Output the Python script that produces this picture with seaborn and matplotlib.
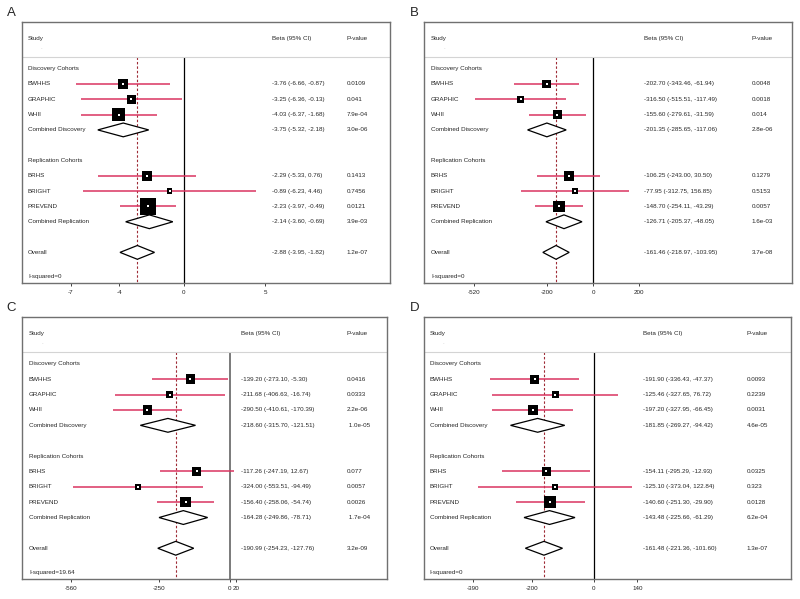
"""
Forest plots (4 panels): per-cohort beta with 95% CI, pooled estimates.
"""

import matplotlib
matplotlib.use("Agg")
import matplotlib.pyplot as plt
from matplotlib.patches import Polygon
import seaborn as sns

sns.set_style("white")
plt.rcParams['font.family'] = ['Liberation Sans', 'DejaVu Sans']

studies = ["BWHHS", "GRAPHIC", "WHII", "BRHS", "BRIGHT", "PREVEND"]
pooled = ["Combined Discovery", "Combined Replication", "Overall"]
groups = ["Discovery Cohorts", "Replication Cohorts"]

# ---------------- panel A ----------------
beta_A = [-3.76, -3.25, -4.03, -2.29, -0.89, -2.23]
lo_A = [-6.66, -6.36, -6.37, -5.33, -6.23, -3.97]
hi_A = [-0.87, -0.13, -1.68, 0.76, 4.46, -0.49]
p_A = ["0.0109", "0.041", "7.9e-04", "0.1413", "0.7456", "0.0121"]
wt_A = [81, 76, 137, 94, 28, 225]          # relative box area
pb_A = [-3.75, -2.14, -2.88]
plo_A = [-5.32, -3.60, -3.95]
phi_A = [-2.18, -0.69, -1.82]
pp_A = ["3.0e-06", "3.9e-03", "1.2e-07"]
isq_A = "0"
ticks_A = [-7, -4, 0, 5]

# ---------------- panel B ----------------
beta_B = [-202.70, -316.50, -155.60, -106.25, -77.95, -148.70]
lo_B = [-343.46, -515.51, -279.61, -243.00, -312.75, -254.11]
hi_B = [-61.94, -117.49, -31.59, 30.50, 156.85, -43.29]
p_B = ["0.0048", "0.0018", "0.014", "0.1279", "0.5153", "0.0057"]
wt_B = [69, 36, 81, 81, 28, 121]
pb_B = [-201.35, -126.71, -161.46]
plo_B = [-285.65, -205.37, -218.97]
phi_B = [-117.06, -48.05, -103.95]
pp_B = ["2.8e-06", "1.6e-03", "3.7e-08"]
isq_B = "0"
ticks_B = [-520, -200, 0, 200]

# ---------------- panel C ----------------
beta_C = [-139.20, -211.68, -290.50, -117.26, -324.00, -156.40]
lo_C = [-273.10, -406.63, -410.61, -247.19, -553.51, -258.06]
hi_C = [-5.30, -16.74, -170.39, 12.67, -94.49, -54.74]
p_C = ["0.0416", "0.0333", "2.2e-06", "0.077", "0.0057", "0.0026"]
wt_C = [81, 40, 81, 69, 36, 94]
pb_C = [-218.60, -164.28, -190.99]
plo_C = [-315.70, -249.86, -254.23]
phi_C = [-121.51, -78.71, -127.76]
pp_C = [" 1.0e-05", " 1.7e-04", "3.2e-09"]
isq_C = "19.64"
ticks_C = [-560, -250, 0, 20]

# ---------------- panel D ----------------
beta_D = [-191.90, -125.46, -197.20, -154.11, -125.10, -140.60]
lo_D = [-336.43, -327.65, -327.95, -295.29, -373.04, -251.30]
hi_D = [-47.37, 76.72, -66.45, -12.93, 122.84, -29.90]
p_D = ["0.0093", "0.2239", "0.0031", "0.0325", "0.323", "0.0128"]
wt_D = [69, 40, 76, 76, 28, 121]
pb_D = [-181.85, -143.48, -161.48]
plo_D = [-269.27, -225.66, -221.36]
phi_D = [-94.42, -61.29, -101.60]
pp_D = ["4.6e-05", "6.2e-04", "1.3e-07"]
isq_D = "0"
ticks_D = [-390, -200, 0, 140]

# row layout (y in row units, top = -3.05)
study_rows = [1, 2, 3, 7, 8, 9]
pooled_rows = [4, 10, 12]
group_rows = [0, 6]
Y_TOP, Y_BOT, Y_HEAD = -3.05, 14.0, -0.78

W, H = 800, 599
fig = plt.figure(figsize=(W / 100, H / 100), dpi=100)

FS = 4.5
ci_col = '#DA3460'
dash_col = '#9E2A35'


def panel(letter, letter_px, box_px, zero_px, scale, cols,
          beta, lo, hi, p, wt, pb, plo, phi, pp, isq, ticks, zero_style):
    x0, y0, x1, y1 = box_px
    ax = fig.add_axes([x0 / W, 1 - y1 / H, (x1 - x0) / W, (y1 - y0) / H])
    ax.set_xlim((x0 - zero_px) / scale, (x1 - zero_px) / scale)
    ax.set_ylim(Y_BOT, Y_TOP)
    tr = ax.get_yaxis_transform()

    # header
    ax.axhline(Y_HEAD, color='#d4d4d4', lw=0.8)
    ax.text(cols[0], -2.0, "Study", transform=tr, fontsize=FS, va='center')
    ax.text(cols[0] + 0.035, -1.4, ".", transform=tr, fontsize=FS, color='#bbbbbb', va='center')
    ax.text(cols[1], -2.0, "Beta (95% CI)", transform=tr, fontsize=FS, va='center')
    ax.text(cols[2], -2.0, "P-value", transform=tr, fontsize=FS, va='center')

    # reference lines
    ax.vlines(0, Y_HEAD, Y_BOT, color=zero_style[0], lw=zero_style[1], zorder=1)
    ax.vlines(pb[2], Y_HEAD, Y_BOT, color=dash_col, lw=0.8, linestyles=(0, (2.2, 1.8)), zorder=1)

    # group labels
    for r, g in zip(group_rows, groups):
        ax.text(cols[0], r, g, transform=tr, fontsize=FS, va='center')

    # individual studies
    ax.hlines(study_rows, lo, hi, color=ci_col, lw=1.1, zorder=2)
    sns.scatterplot(x=beta, y=study_rows, marker='s', s=[w * 0.6 for w in wt],
                    color='black', edgecolor='black', linewidth=0, ax=ax, zorder=3, legend=False)
    sns.scatterplot(x=beta, y=study_rows, marker='s', s=2.4,
                    color='white', linewidth=0, ax=ax, zorder=4, legend=False)
    for r, name, b, l, h, pv in zip(study_rows, studies, beta, lo, hi, p):
        ax.text(cols[0], r, name, transform=tr, fontsize=FS, va='center')
        ax.text(cols[1], r, f"{b:.2f} ({l:.2f}, {h:.2f})", transform=tr, fontsize=FS, va='center')
        ax.text(cols[2], r, pv, transform=tr, fontsize=FS, va='center')

    # pooled diamonds
    for r, name, b, l, h, pv in zip(pooled_rows, pooled, pb, plo, phi, pp):
        ax.add_patch(Polygon([(l, r), (b, r - 0.45), (h, r), (b, r + 0.45)],
                             closed=True, facecolor='white', edgecolor='black', lw=0.9, zorder=3))
        ax.text(cols[0], r, name, transform=tr, fontsize=FS, va='center')
        ax.text(cols[1], r, f"{b:.2f} ({l:.2f}, {h:.2f})", transform=tr, fontsize=FS, va='center')
        ax.text(cols[2], r, pv, transform=tr, fontsize=FS, va='center')

    ax.text(cols[0], 13.55, f"I-squared={isq}", transform=tr, fontsize=FS, va='center')

    ax.set_xticks(ticks)
    ax.set_xticklabels([str(t) for t in ticks])
    ax.set_yticks([])
    ax.tick_params(axis='x', direction='out', length=2.5, width=0.6, pad=2.5,
                   labelsize=FS, colors='#222222', bottom=True)
    for s in ax.spines.values():
        s.set_color('#707070')
        s.set_linewidth(1.0)
    ax.set_xlabel("")
    ax.set_ylabel("")

    fig.text(letter_px[0] / W, 1 - letter_px[1] / H, letter, fontsize=9.5, va='top', ha='left')


panel("A", (7, 7), (22, 22, 390, 283), 184, 16.2, (0.016, 0.68, 0.883),
      beta_A, lo_A, hi_A, p_A, wt_A, pb_A, plo_A, phi_A, pp_A, isq_A, ticks_A, ('black', 0.9))
panel("B", (410, 7), (424, 22, 792, 283), 593, 0.229, (0.019, 0.598, 0.891),
      beta_B, lo_B, hi_B, p_B, wt_B, pb_B, plo_B, phi_B, pp_B, isq_B, ticks_B, ('black', 0.9))
panel("C", (6, 302), (22, 317, 387, 579), 230, 0.284, (0.019, 0.60, 0.89),
      beta_C, lo_C, hi_C, p_C, wt_C, pb_C, plo_C, phi_C, pp_C, isq_C, ticks_C, ('#7a7a7a', 1.4))
panel("D", (410, 302), (424, 317, 791, 579), 594, 0.31, (0.016, 0.597, 0.88),
      beta_D, lo_D, hi_D, p_D, wt_D, pb_D, plo_D, phi_D, pp_D, isq_D, ticks_D, ('black', 0.9))

plt.savefig("out.png", dpi=100)
